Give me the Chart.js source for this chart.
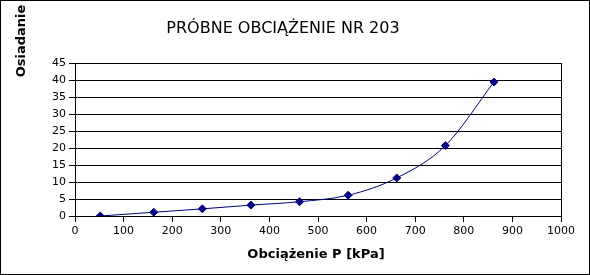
<!DOCTYPE html>
<html>
<head>
<meta charset="utf-8">
<script src="https://cdn.jsdelivr.net/npm/chart.js@4"></script>
<style>
  html, body { margin: 0; padding: 0; background: #fff; }
  #wrap { width: 590px; height: 275px; position: relative; box-sizing: border-box; border: 1px solid #000; }
</style>
</head>
<body>
<div id="wrap"><canvas id="c"></canvas></div>
<script>
const chartTitle = 'PRÓBNE OBCIĄŻENIE NR 203';
const xTitle = 'Obciążenie P [kPa]';
const yTitle = 'Osiadanie';

// load [kPa] vs settlement
const loads = [52, 162, 262, 362, 462, 562, 662, 762, 862];
const settlements = [0, 1.1, 2.1, 3.2, 4.2, 6.1, 11.2, 20.7, 39.4];

const navy = '#000080';
const font = 'DejaVu Sans, sans-serif';

// titles are drawn by hand because they are not centred on the plot area
const titlesPlugin = {
  id: 'titles',
  afterDraw(chart) {
    const ctx = chart.ctx;
    ctx.save();
    ctx.fillStyle = '#000';
    ctx.textAlign = 'center';
    ctx.textBaseline = 'middle';
    ctx.font = '16px ' + font;
    ctx.fillText(chartTitle, 282, 28);
    ctx.font = 'bold 13px ' + font;
    ctx.fillText(xTitle, 315, 254);
    ctx.translate(21, 40);
    ctx.rotate(-Math.PI / 2);
    ctx.fillText(yTitle, 0, 0);
    ctx.restore();
  }
};

new Chart(document.getElementById('c'), {
  type: 'line',
  data: {
    labels: loads,
    datasets: [{
      data: loads.map((x, i) => ({ x: x, y: settlements[i] })),
      borderColor: navy,
      backgroundColor: navy,
      borderWidth: 1,
      tension: 0.4,
      cubicInterpolationMode: 'monotone',
      pointStyle: 'rectRot',
      pointRadius: 4,
      pointBorderWidth: 1,
      fill: false
    }]
  },
  options: {
    responsive: true,
    maintainAspectRatio: false,
    animation: false,
    layout: { padding: { top: 62, right: 28, left: 0, bottom: 0 } },
    plugins: {
      legend: { display: false },
      tooltip: { enabled: false }
    },
    scales: {
      x: {
        type: 'linear',
        min: 0,
        max: 1000,
        ticks: {
          stepSize: 100, autoSkip: false, color: '#000', maxRotation: 0, padding: 3,
          font: { family: font, size: 11 },
          callback: (v) => String(v)
        },
        grid: {
          color: (c) => c.tick && c.tick.value === 1000 ? '#000' : 'rgba(0,0,0,0)',
          tickColor: '#000',
          tickLength: 6
        },
        border: { color: '#000' },
        afterFit: (s) => { s.height = 58; }
      },
      y: {
        min: 0,
        max: 45,
        ticks: { stepSize: 5, autoSkip: false, color: '#000', font: { family: font, size: 11 }, padding: 3 },
        grid: { color: '#000', tickColor: '#000', tickLength: 6 },
        border: { color: '#000' },
        afterFit: (s) => { s.width = 74; }
      }
    }
  },
  plugins: [titlesPlugin]
});
</script>
</body>
</html>
